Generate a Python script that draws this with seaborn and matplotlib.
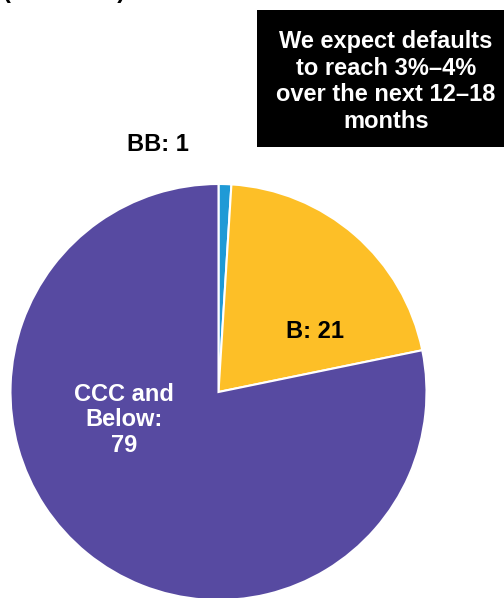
import matplotlib
matplotlib.use("Agg")
import matplotlib.pyplot as plt
import seaborn as sns

categories = ["BB", "B", "CCC and\nBelow"]
values = [1, 21, 79]
colors = ["#1f9ad6", "#fdbf27", "#574aa1"]
label_colors = ["black", "black", "white"]
# label positions in pixels (x, y from top)
label_pos = [(158, 144), (315, 332), (124, 420)]

sns.set_theme(style="white")
plt.rcParams["font.family"] = ["Liberation Sans", "DejaVu Sans"]

W, H = 504, 598
fig = plt.figure(figsize=(W / 100, H / 100), dpi=100)
fig.patch.set_facecolor("white")

R = 208
cx, cy = 218.5, 392
ax = fig.add_axes([(cx - R) / W, (H - cy - R) / H, 2 * R / W, 2 * R / H])
ax.pie(values, colors=colors, startangle=90, counterclock=False, radius=1,
       wedgeprops=dict(edgecolor="white", linewidth=1.5))
ax.set_xlim(-1, 1)
ax.set_ylim(-1, 1)
ax.set_aspect("auto")
ax.axis("off")

for cat, val, col, (px, py) in zip(categories, values, label_colors, label_pos):
    txt = f"{cat}:\n{val}" if "\n" in cat else f"{cat}: {val}"
    fig.text(px / W, 1 - py / H, txt,
             ha="center", va="center", fontsize=17, fontweight="bold", color=col,
             linespacing=1.15)

# subtitle, cut off at the top edge as in the reference
fig.text(3 / W, 1 + 2 / H, "(% of total)", ha="left", va="baseline", fontsize=17,
         fontweight="bold", color="black")

# callout box
fig.patches.append(plt.Rectangle((257 / W, 1 - 147 / H), (W - 257) / W, 137 / H,
                                 transform=fig.transFigure, facecolor="black",
                                 edgecolor="none"))
fig.text(386 / W, 1 - 81.5 / H, "We expect defaults\nto reach 3%\u20134%\nover the next 12\u201318\nmonths",
         ha="center", va="center", fontsize=17, fontweight="bold", color="white",
         linespacing=1.2)

fig.savefig("out.png", dpi=100)
